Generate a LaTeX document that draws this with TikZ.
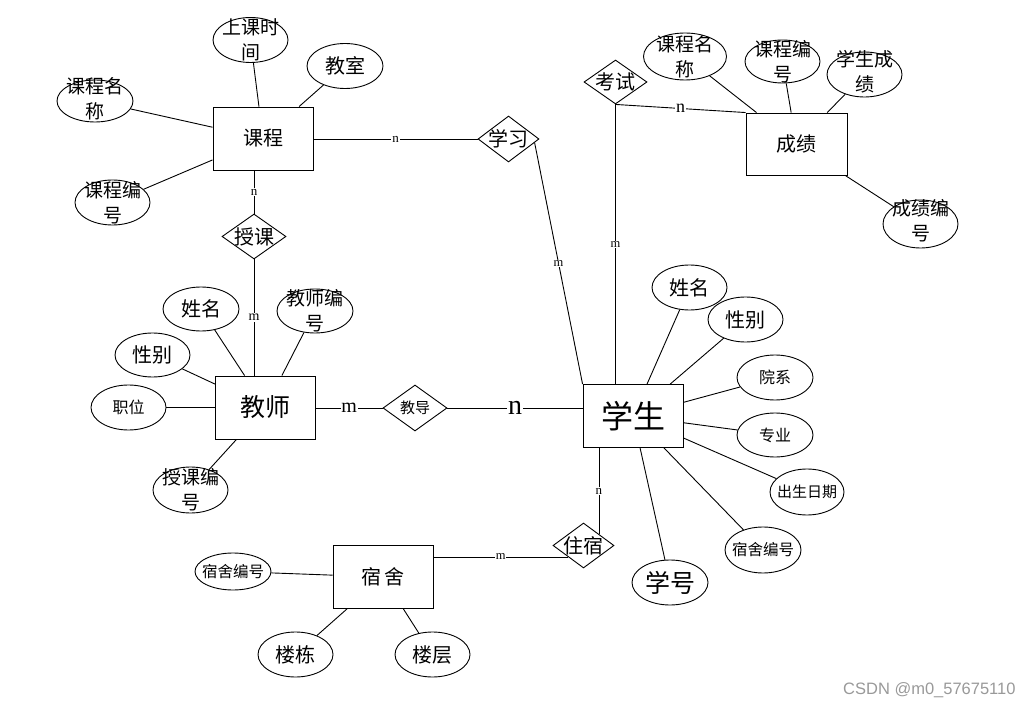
\documentclass[tikz,border=0pt]{standalone}
\usepackage{fontspec}
\setmainfont{Liberation Serif}
\newfontfamily\cjk{Noto Sans CJK SC}
\newfontfamily\wmfont{Liberation Sans}
\usetikzlibrary{shapes.geometric,calc}
\tikzset{
  ln/.style={line width=0.9pt},
  attr/.style={ellipse, draw, line width=0.9pt, inner sep=0pt, minimum width=76pt, minimum height=45pt},
  ent/.style={draw, line width=0.9pt, inner sep=0pt, minimum width=100pt, minimum height=63pt},
  rel/.style={diamond, draw, line width=0.9pt, inner sep=0pt, minimum width=62pt, minimum height=45pt},
  tx/.style={font=\cjk\fontsize{#1}{25}\selectfont, align=center, inner sep=0pt},
  lab/.style={font=\fontsize{#1}{#1}\selectfont, fill=white, inner sep=0.8pt},
}
\begin{document}
\begin{tikzpicture}[x=1pt,y=-1pt]
\useasboundingbox (0,0) rectangle (1033,708);

% ---------- entities ----------
\node[ent, tx=20] (kc) at (263,138.5) {课程};
\node[ent, tx=25] (js) at (265.5,407.5) {教师};
\node[ent, tx=32] (xs) at (633,416) {学生};
\node[ent, tx=20, minimum width=101pt, minimum height=62pt] (cj) at (796.5,144) {成绩};
\node[ent, tx=20] (ss) at (383,577) {宿\,舍};

% ---------- relationships ----------
\node[rel, minimum width=61pt, minimum height=46pt] (xx) at (508.5,139) {};
\node[tx=20] (xxt) at (xx) {学习};
\node[rel, minimum width=64pt] (sk) at (254,236.5) {};
\node[tx=20] (skt) at (sk) {授课};
\node[rel, minimum width=64pt, minimum height=46pt] (jd) at (415,408) {};
\node[tx=15] (jdt) at (jd) {教导};
\node[rel, minimum width=63pt, minimum height=44pt] (ks) at (615.5,82) {};
\node[tx=20] (kst) at (ks) {考试};
\node[rel, minimum width=61pt] (zs) at (583.5,545.5) {};
\node[tx=20] (zst) at (zs) {住宿};

% ---------- course attributes ----------
\node[attr, minimum width=75pt] (kc1) at (250.5,40) {};
\node[tx=19] (kc1t) at (kc1) {上课时\\间};
\node[attr] (kc2) at (345,66) {};
\node[tx=20] (kc2t) at (kc2) {教室};
\node[attr, minimum height=42pt] (kc3) at (95,101) {};
\node[tx=19] (kc3t) at ($(kc3)+(0,-2)$) {课程名\\称};
\node[attr, minimum width=75pt] (kc4) at (112.5,202.5) {};
\node[tx=19] (kc4t) at (kc4) {课程编\\号};

% ---------- teacher attributes ----------
\node[attr, minimum height=44pt] (js1) at (201,309) {};
\node[tx=20] (js1t) at (js1) {姓名};
\node[attr, minimum height=44pt] (js2) at (315,311) {};
\node[tx=19] (js2t) at (js2) {教师编\\号};
\node[attr, minimum width=75pt, minimum height=44pt] (js3) at (152.5,355) {};
\node[tx=20] (js3t) at (js3) {性别};
\node[attr, minimum width=75pt] (js4) at (128.5,407.5) {};
\node[tx=16] (js4t) at (js4) {职位};
\node[attr, minimum width=75pt, minimum height=46pt] (js5) at (190.5,490) {};
\node[tx=19] (js5t) at (js5) {授课编\\号};

% ---------- student attributes ----------
\node[attr, minimum width=75pt] (xs1) at (689.5,287.5) {};
\node[tx=20] (xs1t) at (xs1) {姓名};
\node[attr, minimum width=75pt] (xs2) at (745.5,319.5) {};
\node[tx=20] (xs2t) at (xs2) {性别};
\node[attr] (xs3) at (775,377.5) {};
\node[tx=16] (xs3t) at (xs3) {院系};
\node[attr, minimum height=44pt] (xs4) at (775,435) {};
\node[tx=16] (xs4t) at (xs4) {专业};
\node[attr, minimum width=74pt, minimum height=46pt] (xs5) at (807,492) {};
\node[tx=15] (xs5t) at (xs5) {出生日期};
\node[attr, minimum height=46pt] (xs6) at (763,550) {};
\node[tx=15.5] (xs6t) at (xs6) {宿舍编号};
\node[attr] (xs7) at (670,582.5) {};
\node[tx=25] (xs7t) at (xs7) {学号};

% ---------- grade attributes ----------
\node[attr, minimum width=83pt, minimum height=47pt] (cj1) at (685,56.5) {};
\node[tx=19] (cj1t) at (cj1) {课程名\\称};
\node[attr, minimum width=75pt, minimum height=43pt] (cj2) at (782.5,61.5) {};
\node[tx=19] (cj2t) at (cj2) {课程编\\号};
\node[attr, minimum width=75pt] (cj3) at (864.5,74.5) {};
\node[tx=19] (cj3t) at ($(cj3)+(0,-3)$) {学生成\\绩};
\node[attr, minimum width=75pt, minimum height=48pt] (cj4) at (920.5,224) {};
\node[tx=19] (cj4t) at ($(cj4)+(0,-3)$) {成绩编\\号};

% ---------- dorm attributes ----------
\node[attr, minimum height=37pt] (ss1) at (233,571.5) {};
\node[tx=15.5] (ss1t) at (ss1) {宿舍编号};
\node[attr, minimum width=75pt] (ss2) at (295.5,654.5) {};
\node[tx=20] (ss2t) at (ss2) {楼栋};
\node[attr, minimum width=75pt] (ss3) at (432.5,654.5) {};
\node[tx=20] (ss3t) at (ss3) {楼层};

% ---------- attribute connectors ----------
\foreach \a in {kc1,kc2,kc3,kc4} \draw[ln] (\a) -- (kc);
\foreach \a in {js1,js2,js3,js4,js5} \draw[ln] (\a) -- (js);
\foreach \a in {xs1,xs2,xs3,xs4,xs5,xs6,xs7} \draw[ln] (\a) -- (xs);
\foreach \a in {cj1,cj2,cj3,cj4} \draw[ln] (\a) -- (cj);
\foreach \a in {ss1,ss2,ss3} \draw[ln] (\a) -- (ss);

% ---------- relationship connectors ----------
\draw[ln] (kc.east |- xx.west) -- node[lab=13] (l1) {n} (xx.west);
\draw[ln] (sk.north |- kc.south) -- node[lab=13] (l2) {n} (sk.north);
\draw[ln] (sk.south) -- node[lab=14] (l3) {m} (sk.south |- js.north);
\draw[ln] (js.east |- jd.west) -- node[lab=20] (l4) {m} (jd.west);
\draw[ln] (jd.east) -- node[lab=28] (l5) {n} (jd.east -| xs.west);
\draw[ln] (xx.-8) -- node[lab=12.5] (l6) {m} (xs.north west);
\draw[ln] (ks.south) -- node[lab=12.5] (l7) {m} (ks.south |- xs.north);
\draw[ln] (ks.south) -- node[lab=18] (l8) {n} (cj.north west);
\draw[ln] (zs.north east |- xs.south) -- node[lab=13] (l9) {n} (zs.north east);
\draw[ln] (zs.south west -| ss.east) -- node[lab=12.5] (l10) {m} (zs.south west);

% ---------- watermark ----------
\node[font=\wmfont\fontsize{16.5}{16.5}\selectfont, text=black!40, anchor=west, inner sep=0pt] (wm) at (843,690) {CSDN @m0\_57675110};
\end{tikzpicture}
\end{document}
